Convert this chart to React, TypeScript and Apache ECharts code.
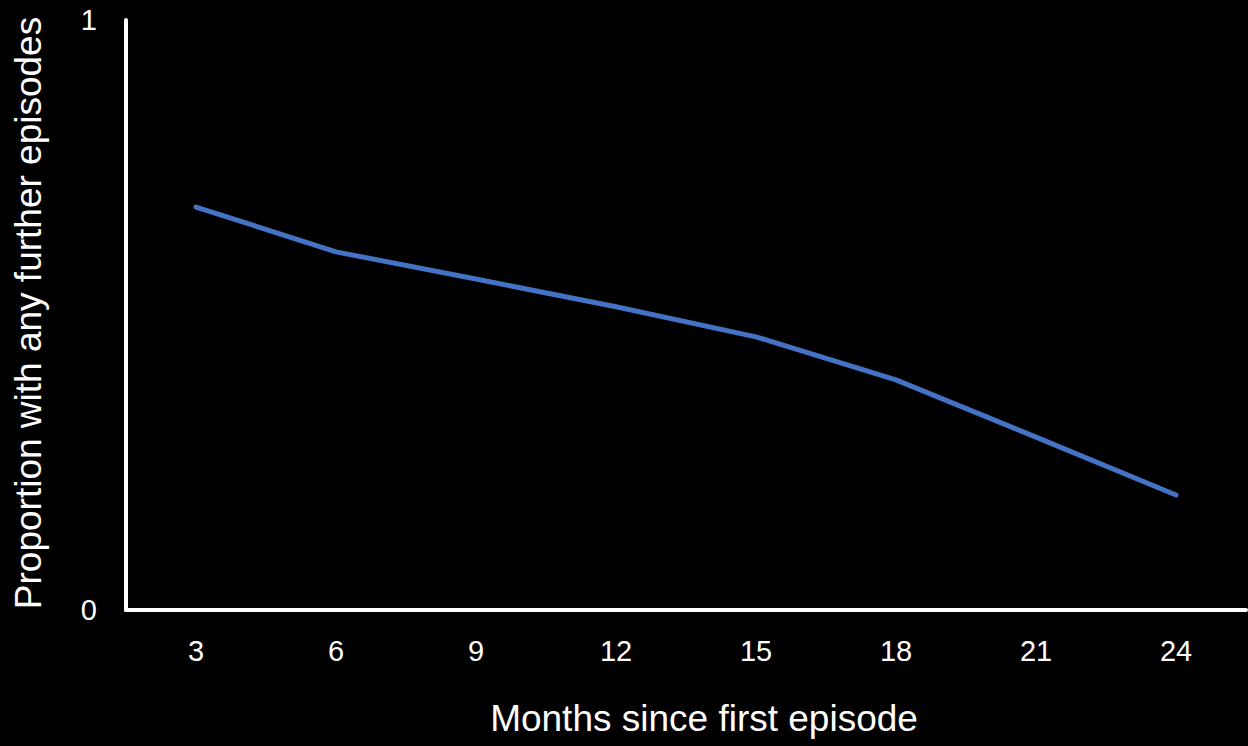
import React, { useEffect, useRef } from "react";
import * as echarts from "echarts";

const months = ["3", "6", "9", "12", "15", "18", "21", "24"];
const proportion = [0.683, 0.607, 0.561, 0.514, 0.463, 0.39, 0.293, 0.195];
const yTicks = [0, 1];
const xTitle = "Months since first episode";
const yTitle = "Proportion with any further episodes";

export default function App() {
  const ref = useRef<HTMLDivElement>(null);
  useEffect(() => {
    if (!ref.current) return;
    const chart = echarts.init(ref.current, null, { renderer: "svg" });
    const font = "'Liberation Sans', Arial, sans-serif";
    chart.setOption({
      animation: false,
      backgroundColor: "#000000",
      grid: { left: 126, right: 2, top: 20, bottom: 136, containLabel: false },
      xAxis: {
        type: "category",
        data: months,
        boundaryGap: true,
        axisLine: { show: true, lineStyle: { color: "#ffffff", width: 4 } },
        axisTick: { show: false },
        axisLabel: { color: "#ffffff", fontSize: 29, fontFamily: font, margin: 26 },
        splitLine: { show: false },
      },
      yAxis: {
        type: "value",
        min: yTicks[0],
        max: yTicks[yTicks.length - 1],
        interval: 1,
        axisLine: { show: true, lineStyle: { color: "#ffffff", width: 4 } },
        axisTick: { show: false },
        axisLabel: { color: "#ffffff", fontSize: 29, fontFamily: font, margin: 29 },
        splitLine: { show: false },
      },
      graphic: [
        {
          type: "text",
          x: 704,
          y: 718,
          style: {
            text: xTitle,
            fill: "#ffffff",
            font: `37px ${font}`,
            textAlign: "center",
            textVerticalAlign: "middle",
          },
        },
        {
          type: "text",
          x: 28,
          y: 313,
          rotation: Math.PI / 2,
          style: {
            text: yTitle,
            fill: "#ffffff",
            font: `37px ${font}`,
            textAlign: "center",
            textVerticalAlign: "middle",
          },
        },
      ],
      series: [
        {
          type: "line",
          data: proportion,
          smooth: false,
          symbol: "none",
          lineStyle: { color: "#4472C4", width: 5, cap: "round", join: "round" },
        },
      ],
    });
    return () => chart.dispose();
  }, []);
  return <div ref={ref} style={{ width: 1248, height: 746, position: "absolute", left: 0, top: 0 }} />;
}
